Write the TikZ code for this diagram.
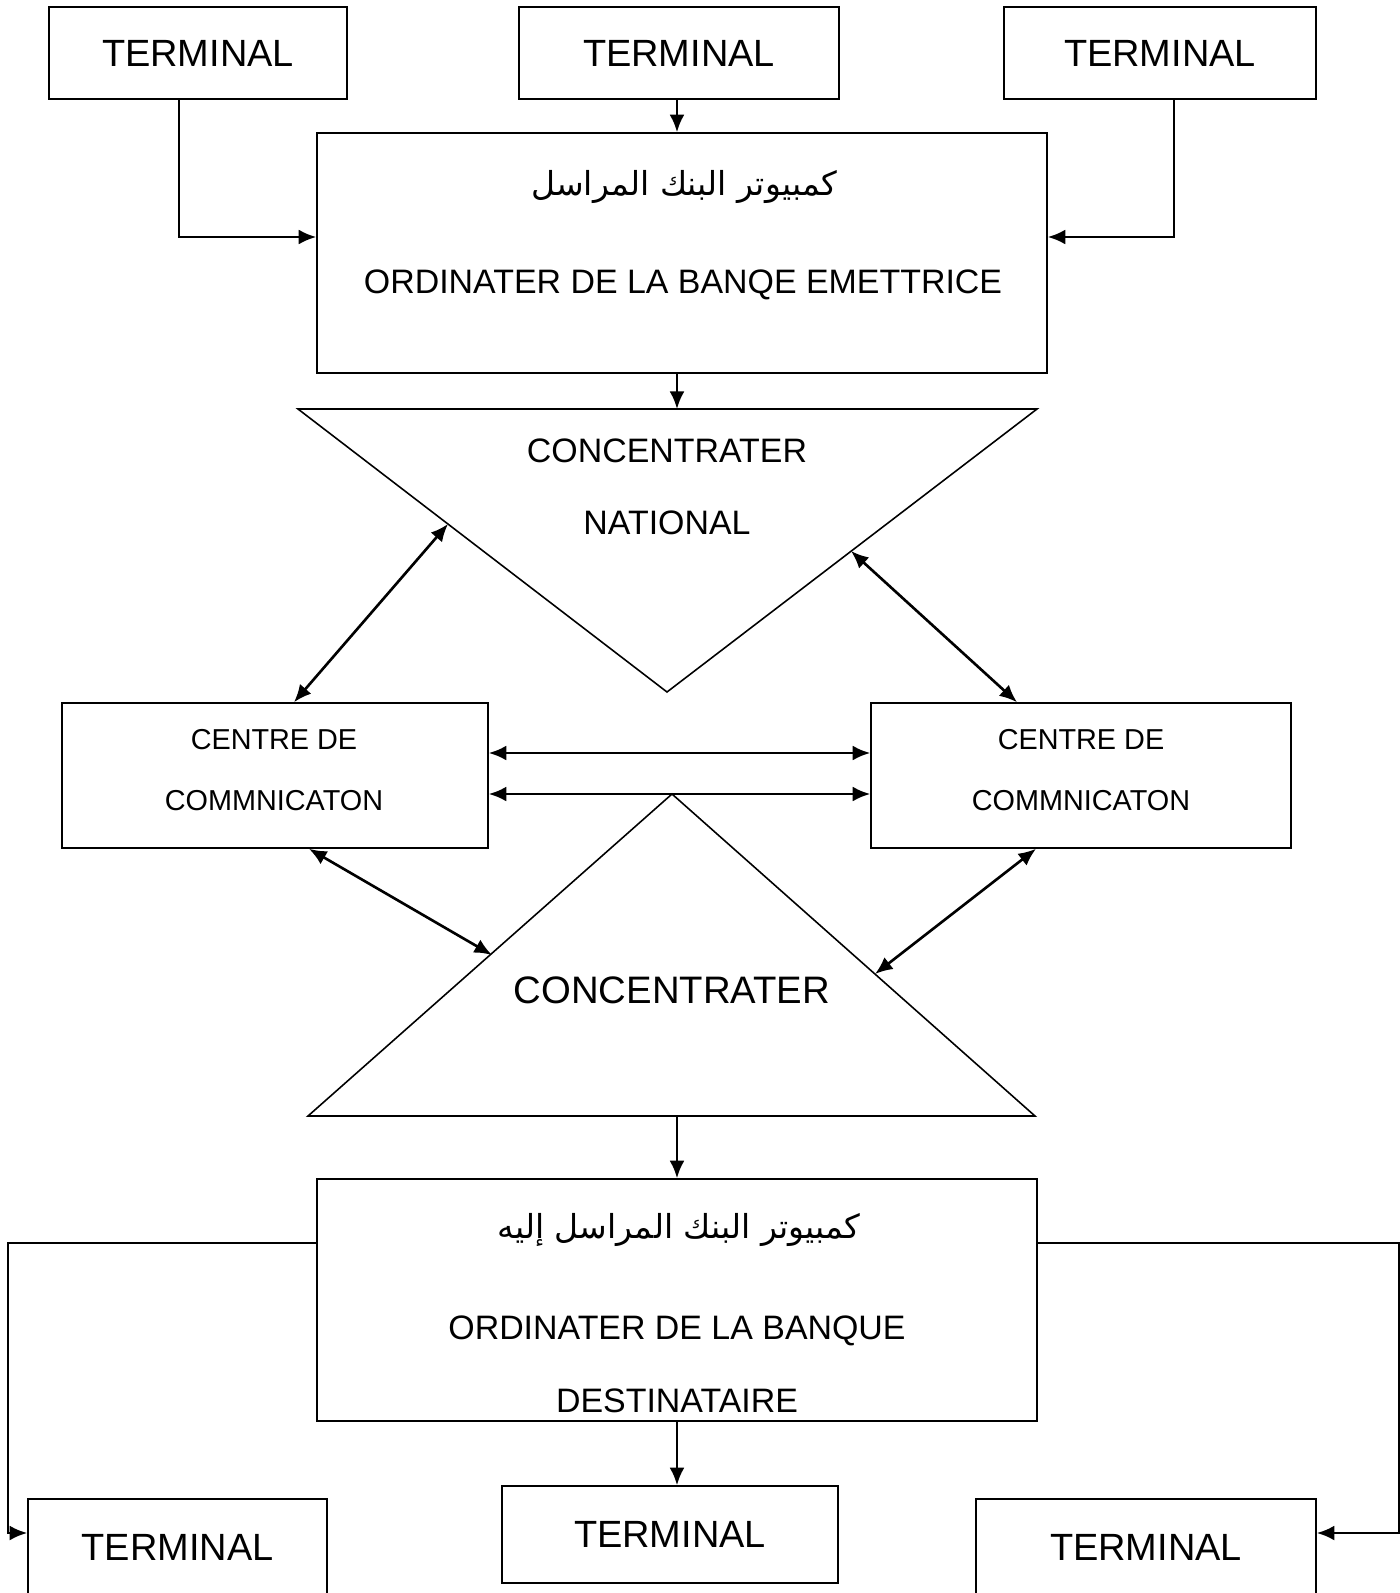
\documentclass[tikz,border=0pt]{standalone}
\usepackage{fontspec}
\setmainfont{Liberation Sans}
\newfontfamily\arabicfont[Script=Arabic]{DejaVu Sans}
\TeXXeTstate=1
\usetikzlibrary{arrows.meta}
\begin{document}
\begin{tikzpicture}[x=0.02cm, y=-0.02cm, >={Latex[length=10pt,width=8.5pt]},
    blk/.style={draw, line width=0.9pt, inner sep=0pt},
    link/.style={line width=1.5pt},
    term/.style={blk, font=\fontsize{21.6}{26}\selectfont},
    lbl/.style={font=\fontsize{19.3}{23}\selectfont, inner sep=0pt},
    small/.style={font=\fontsize{16.4}{20}\selectfont, inner sep=0pt}]
    \useasboundingbox (0,0) rectangle (1400,1593);

    % terminaux du haut
    \node[term, minimum width=5.96cm, minimum height=1.84cm] (tA) at (198,53) {TERMINAL};
    \node[term, minimum width=6.4cm, minimum height=1.84cm] (tB) at (679,53) {TERMINAL};
    \node[term, minimum width=6.24cm, minimum height=1.84cm] (tC) at (1160,53) {TERMINAL};

    % ordinateur de la banque emettrice
    \node[blk, minimum width=14.6cm, minimum height=4.8cm] (bank1) at (682,253) {};
    \node[lbl, font=\fontsize{18.8}{23}\selectfont] (ar1) at (684,187) {\arabicfont\beginR كمبيوتر البنك المراسل\endR};
    \node[lbl] (em1) at (683,285) {ORDINATER DE LA BANQE EMETTRICE};

    % concentrateur national
    \coordinate (n1) at (298,409);
    \coordinate (n2) at (1037,409);
    \coordinate (n3) at (667,692);
    \draw[line width=0.9pt] (n1) -- (n2) -- (n3) -- cycle;
    \node[lbl] (cn1) at (667,451) {CONCENTRATER};
    \node[lbl] (cn2) at (667,523) {NATIONAL};

    % centres de communication
    \node[blk, minimum width=8.52cm, minimum height=2.9cm] (cL) at (275,775.5) {};
    \node[small] (cL1) at (274,740) {CENTRE DE};
    \node[small] (cL2) at (274,801) {COMMNICATON};
    \node[blk, minimum width=8.4cm, minimum height=2.9cm] (cR) at (1081,775.5) {};
    \node[small] (cR1) at (1081,740) {CENTRE DE};
    \node[small] (cR2) at (1081,801) {COMMNICATON};

    % concentrateur
    \coordinate (s1) at (672,794);
    \coordinate (s2) at (308,1116);
    \coordinate (s3) at (1035,1116);
    \draw[line width=0.9pt] (s1) -- (s2) -- (s3) -- cycle;
    \node[font=\fontsize{21.8}{26}\selectfont, inner sep=0pt] (cn3) at (672,990) {CONCENTRATER};

    % ordinateur de la banque destinataire
    \node[blk, minimum width=14.4cm, minimum height=4.84cm] (bank2) at (677,1300) {};
    \node[lbl, font=\fontsize{18.8}{23}\selectfont] (ar2) at (679,1230) {\arabicfont\beginR كمبيوتر البنك المراسل إليه\endR};
    \node[lbl] (de1) at (677,1331) {ORDINATER DE LA BANQUE};
    \node[lbl] (de2) at (677,1401) {DESTINATAIRE};

    % terminaux du bas
    \node[term, minimum width=5.98cm, minimum height=1.92cm] (tL) at (177.5,1547) {TERMINAL};
    \node[term, minimum width=6.72cm, minimum height=1.94cm] (tM) at (670,1534.5) {TERMINAL};
    \node[term, minimum width=6.8cm, minimum height=1.92cm] (tR) at (1146,1547) {TERMINAL};

    % liaisons
    \coordinate (sp) at (677,0);
    \coordinate (kA) at (179,237);
    \coordinate (kC) at (1174,237);
    \draw[->, link] (tB.south -| sp) -- (bank1.north -| sp);
    \draw[->, link] (tA.south -| kA) -- (kA) -- (bank1.west |- kA);
    \draw[->, link] (tC.south -| kC) -- (kC) -- (bank1.east |- kC);
    \draw[->, link] (bank1.south -| sp) -- (n1 -| sp);

    \coordinate (dL) at (448,524);
    \coordinate (dR) at (851,551);
    \coordinate (eL) at (294,0);
    \coordinate (eR) at (1017,0);
    \draw[<->, link] (dL) -- (cL.north -| eL);
    \draw[<->, link] (dR) -- (cR.north -| eR);

    \coordinate (h1) at (0,753);
    \coordinate (h2) at (0,794);
    \draw[<->, link] (cL.east |- h1) -- (cR.west |- h1);
    \draw[<->, link] (cL.east |- h2) -- (cR.west |- h2);

    \coordinate (gL) at (492,955);
    \coordinate (gR) at (875,974);
    \coordinate (fL) at (309,0);
    \coordinate (fR) at (1036,0);
    \draw[<->, link] (cL.south -| fL) -- (gL);
    \draw[<->, link] (cR.south -| fR) -- (gR);

    \draw[->, link] (s2 -| sp) -- (bank2.north -| sp);
    \draw[->, link] (bank2.south -| sp) -- (tM.north -| sp);

    \coordinate (k1) at (8,1243);
    \coordinate (k2) at (8,1533);
    \coordinate (k3) at (1399,1243);
    \coordinate (k4) at (1399,1533);
    \draw[->, link] (bank2.west |- k1) -- (k1) -- (k2) -- (tL.west |- k2);
    \draw[->, link] (bank2.east |- k3) -- (k3) -- (k4) -- (tR.east |- k4);
\end{tikzpicture}
\end{document}
